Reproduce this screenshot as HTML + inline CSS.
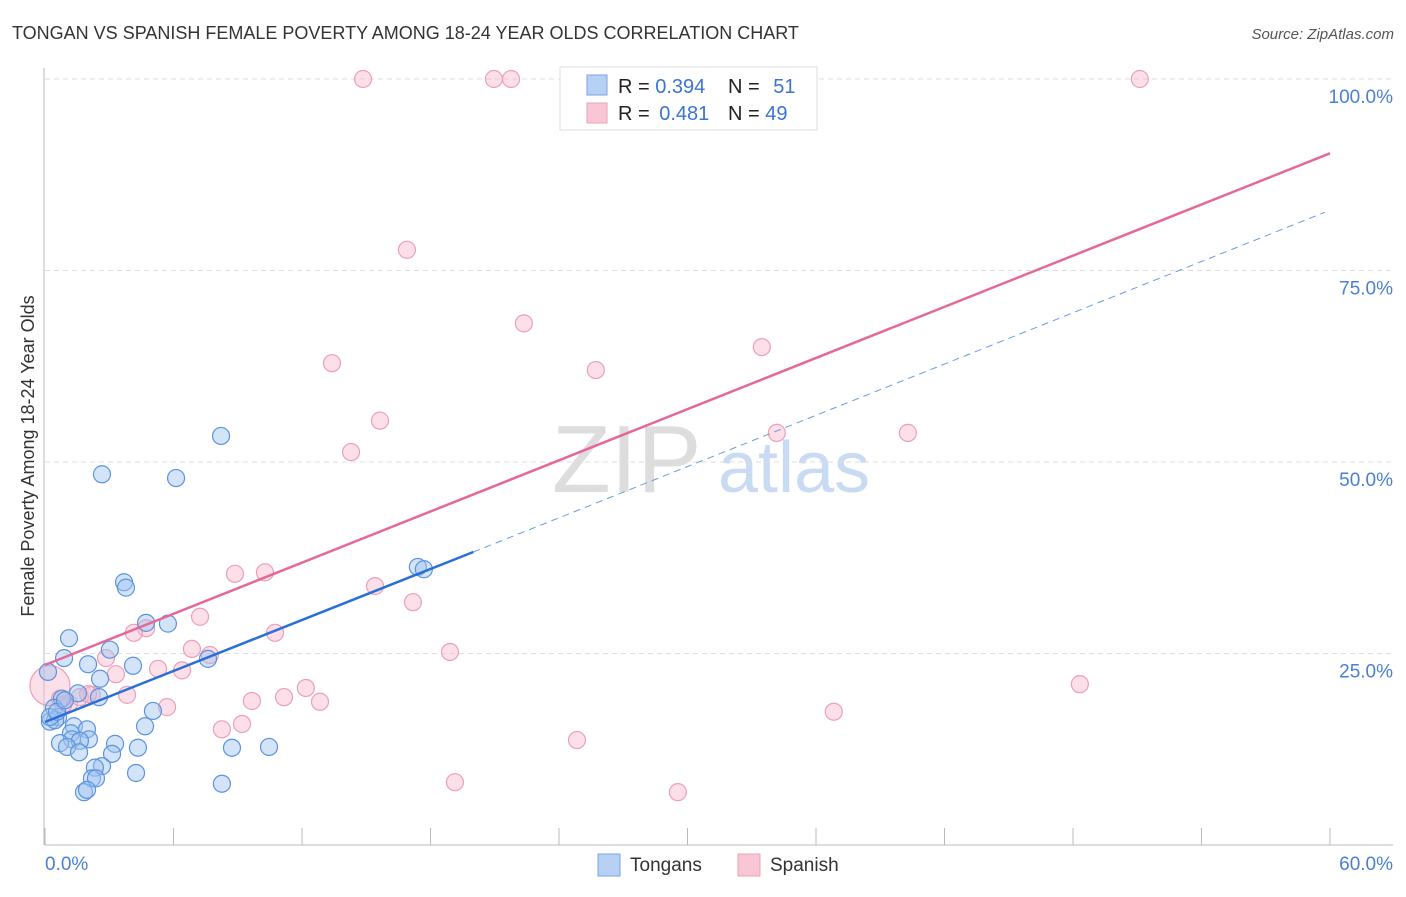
<!DOCTYPE html>
<html><head><meta charset="utf-8"><style>
body{margin:0;background:#fff;font-family:"Liberation Sans",sans-serif;}
svg text{font-family:"Liberation Sans",sans-serif;}
</style></head><body>
<svg width="1406" height="892" viewBox="0 0 1406 892">
<text x="12" y="39" font-size="18" fill="#333">TONGAN VS SPANISH FEMALE POVERTY AMONG 18-24 YEAR OLDS CORRELATION CHART</text>
<text x="1394" y="39" font-size="15" fill="#555" font-style="italic" text-anchor="end">Source: ZipAtlas.com</text>
<g>
<text x="552" y="492" font-size="96" fill="#ddd" font-family="Liberation Serif">ZIP</text>
<text x="718" y="492" font-size="72" fill="#c9dbf3">atlas</text>
</g>
<g id="grid"></g>
<g id="axes"></g>
<g id="marks"></g>
<text transform="translate(34,456) rotate(-90)" font-size="18" fill="#333" text-anchor="middle">Female Poverty Among 18-24 Year Olds</text>
<g>
<rect x="560" y="67" width="257" height="63" fill="#fff" stroke="#ddd"/>
<rect x="587" y="75" width="20" height="20" fill="#b7d0f3" stroke="#7aa6e6"/>
<rect x="587" y="103" width="20" height="20" fill="#f9c6d5" stroke="#eba3b9"/>
<text x="618" y="93" font-size="20" fill="#222">R = <tspan fill="#3b74d1">0.394</tspan></text>
<text x="728" y="93" font-size="20" fill="#222">N = <tspan fill="#3b74d1" dx="8">51</tspan></text>
<text x="618" y="120" font-size="20" fill="#222">R = <tspan fill="#3b74d1" dx="4">0.481</tspan></text>
<text x="728" y="120" font-size="20" fill="#222">N = <tspan fill="#3b74d1">49</tspan></text>
</g>
<g>
<rect x="598" y="854" width="22" height="22" fill="#b7d0f3" stroke="#7aa6e6"/>
<text x="630" y="871" font-size="19" fill="#333">Tongans</text>
<rect x="738" y="854" width="22" height="22" fill="#f9c6d5" stroke="#eba3b9"/>
<text x="770" y="871" font-size="19" fill="#333">Spanish</text>
</g>
</svg>
<script>
const yTicks=[25,50,75,100];
const yTickLabels=["25.0%","50.0%","75.0%","100.0%"];
const xTicks=[0,6,12,18,24,30,36,42,48,54,60];
const tonganX=[0.14,0.89,1.12,2.66,6.12,8.22,3.69,3.78,4.72,5.74,3.03,2.01,4.11,2.57,1.54,2.52,0.79,0.42,0.61,0.23,0.47,5.04,4.67,1.35,1.96,1.21,1.26,2.05,1.63,0.70,1.03,3.27,4.34,3.13,1.59,2.66,2.33,2.19,2.38,4.25,1.82,1.96,8.26,8.73,10.46,7.61,17.41,17.69,0.23,0.56,0.93];
const tonganY=[22.6,24.4,27.0,48.4,47.9,53.4,34.3,33.6,29.0,28.9,25.5,23.6,23.4,21.7,19.8,19.3,19.1,17.9,16.7,16.1,16.3,17.5,15.5,15.5,15.1,14.6,13.8,13.8,13.6,13.3,12.8,13.2,12.7,11.9,12.1,10.3,10.1,8.7,8.7,9.4,6.9,7.2,8.0,12.7,12.8,24.3,36.3,36.0,16.7,17.4,18.9];
const spanishX=[14.85,20.96,21.76,28.48,51.12,16.90,22.36,13.40,33.47,25.72,15.64,14.29,34.17,40.29,8.87,10.27,15.41,17.18,7.24,4.72,4.15,6.86,7.70,18.91,2.85,6.40,5.28,3.31,10.74,12.18,11.16,12.84,9.66,48.32,3.83,2.19,5.70,1.12,36.83,9.20,8.26,24.84,19.14,29.55,0.23,0.84,1.63,2.01,0.70];
const spanishY=[100,100,100,100,100,77.7,68.1,62.9,65.0,62.0,55.4,51.3,53.8,53.8,35.4,35.6,33.8,31.7,29.8,28.3,27.7,25.6,24.8,25.2,24.4,22.8,23.0,22.3,27.7,20.5,19.3,18.7,18.8,21.0,19.6,19.6,18.0,18.5,17.4,15.8,15.1,13.7,8.2,6.9,20.8,18.3,19.3,19.7,19.1];
const tonganTrend=[[0,16.06],[20,38.25],[59.76,82.6]];
const spanishTrend=[[0,23.5],[60,90.3]];
const NS="http://www.w3.org/2000/svg";
const sx=v=>45+v*(1285/60);
const sy=v=>845-v*7.66;
function mk(tag,attrs,parent){const e=document.createElementNS(NS,tag);for(const k in attrs)e.setAttribute(k,attrs[k]);parent.appendChild(e);return e;}
const grid=document.getElementById('grid'),axes=document.getElementById('axes'),marks=document.getElementById('marks');
yTicks.forEach((t,i)=>{
 const l=mk('line',{x1:45,x2:1393,y1:sy(t),y2:sy(t),stroke:'#ddd','stroke-dasharray':'5,4'},grid);
 
 
 const tx=mk('text',{x:1393,y:sy(t)+24,'font-size':19,fill:'#4a7fd6','text-anchor':'end'},axes);
 tx.textContent=yTickLabels[i];
 
 
});
const xa=mk('line',{x1:45,x2:1393,y1:845,y2:845,stroke:'#bbb'},axes);


const ya=mk('line',{x1:44,x2:44,y1:68,y2:845,stroke:'#bbb'},axes);


xTicks.forEach(t=>{
 const l=mk('line',{x1:sx(t),x2:sx(t),y1:828,y2:845,stroke:'#bbb'},axes);
 
 
});
const xl0=mk('text',{x:45,y:870,'font-size':19,fill:'#4a7fd6'},axes);xl0.textContent='0.0%';


const xl1=mk('text',{x:1393,y:870,'font-size':19,fill:'#4a7fd6','text-anchor':'end'},axes);xl1.textContent='60.0%';


spanishX.forEach((x,i)=>{
 const r=(i===44)?20:8.5;
 const c=mk('circle',{cx:sx(x),cy:sy(spanishY[i]),r:r,fill:'rgba(248,185,205,0.45)',stroke:'#eba0b6','stroke-width':1.2},marks);
 
 
});
tonganX.forEach((x,i)=>{
 const c=mk('circle',{cx:sx(x),cy:sy(tonganY[i]),r:8.5,fill:'rgba(160,196,240,0.45)',stroke:'#5b93e0','stroke-width':1.2},marks);
 
 
});
const pl=mk('line',{x1:sx(spanishTrend[0][0]),y1:sy(spanishTrend[0][1]),x2:sx(spanishTrend[1][0]),y2:sy(spanishTrend[1][1]),stroke:'#e4689a','stroke-width':2.5},marks);


const bl=mk('line',{x1:sx(tonganTrend[0][0]),y1:sy(tonganTrend[0][1]),x2:sx(tonganTrend[1][0]),y2:sy(tonganTrend[1][1]),stroke:'#2a6fd6','stroke-width':2.5},marks);


const bd=mk('line',{x1:sx(tonganTrend[1][0]),y1:sy(tonganTrend[1][1]),x2:sx(tonganTrend[2][0]),y2:sy(tonganTrend[2][1]),stroke:'#6a9be0','stroke-width':1,'stroke-dasharray':'7,5'},marks);


</script>
</body></html>
